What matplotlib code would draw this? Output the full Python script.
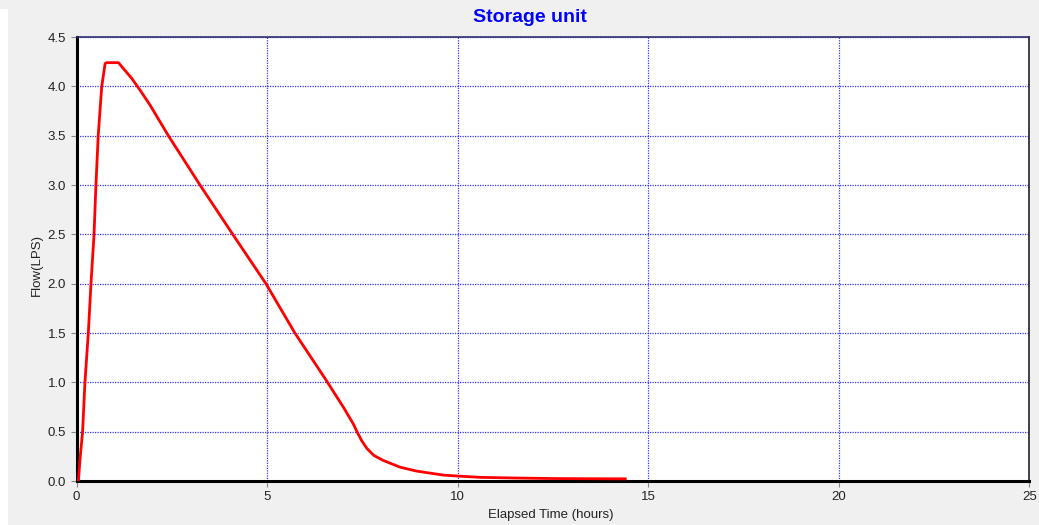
import matplotlib as mpl
import matplotlib.pyplot as plt
from matplotlib.patches import Rectangle

mpl.rc('font', family=['Liberation Sans', 'DejaVu Sans'], size=9.5)

# elapsed time (hours) and flow (LPS)
hours = [0.0, 0.05, 0.09, 0.16, 0.22, 0.31, 0.38, 0.46, 0.51, 0.57, 0.66, 0.75,
         0.79, 1.10, 1.45, 1.67, 1.93, 2.41, 3.24, 4.10, 4.97, 5.73, 6.57, 6.80,
         7.0, 7.26, 7.36, 7.48, 7.62, 7.80, 8.04, 8.49, 8.93, 9.62, 10.01, 10.59,
         11.56, 12.5, 13.5, 14.4]
flow = [0.0, 0.0, 0.21, 0.50, 0.99, 1.50, 2.00, 2.50, 3.00, 3.50, 3.99, 4.23,
        4.24, 4.24, 4.08, 3.96, 3.81, 3.50, 3.00, 2.50, 2.00, 1.50, 1.01, 0.87,
        0.75, 0.58, 0.50, 0.41, 0.33, 0.26, 0.21, 0.14, 0.10, 0.06, 0.05, 0.037,
        0.03, 0.025, 0.023, 0.022]

x_ticks = [0, 5, 10, 15, 20, 25]
y_ticks = [0.0, 0.5, 1.0, 1.5, 2.0, 2.5, 3.0, 3.5, 4.0, 4.5]

fig = plt.figure(figsize=(10.39, 5.25), dpi=100, facecolor='#f0f0f0')
fig.patches.append(Rectangle((0, 0), 8 / 1039, 516 / 525, transform=fig.transFigure,
                             facecolor='white', edgecolor='none', zorder=0))
ax = fig.add_axes([76.5 / 1039, 1 - 481 / 525, (1029.3 - 76.5) / 1039, 444 / 525])
ax.set_facecolor('white')

ax.plot(hours, flow, color='red', lw=2.0, zorder=3)

ax.set_xlim(0, 25)
ax.set_ylim(0, 4.5)
ax.set_xticks(x_ticks)
ax.set_xticklabels([str(t) for t in x_ticks])
ax.set_yticks(y_ticks)
ax.set_yticklabels(['%.1f' % t for t in y_ticks])
ax.grid(True, color='blue', linestyle=(0, (1, 1)), lw=0.9, alpha=0.8)
ax.tick_params(direction='out', length=4, color='#888888', labelcolor='#222222')

ax.spines['left'].set_linewidth(2.2)
ax.spines['left'].set_color('black')
ax.spines['bottom'].set_linewidth(2.2)
ax.spines['bottom'].set_color('black')
ax.spines['top'].set_color('#303070')
ax.spines['top'].set_linewidth(1.2)
ax.spines['right'].set_color('#202030')
ax.spines['right'].set_linewidth(1.2)

fig.text(530 / 1039, 1 - 17 / 525, 'Storage unit', color='blue', fontsize=14,
         fontweight='bold', ha='center', va='center')
fig.text(551 / 1039, 1 - 515 / 525, 'Elapsed Time (hours)', color='#222222',
         ha='center', va='center')
fig.text(37 / 1039, 1 - 265 / 525, 'Flow(LPS)', color='#222222', rotation=90,
         ha='center', va='center')

plt.savefig('out.png', dpi=100, facecolor=fig.get_facecolor())
